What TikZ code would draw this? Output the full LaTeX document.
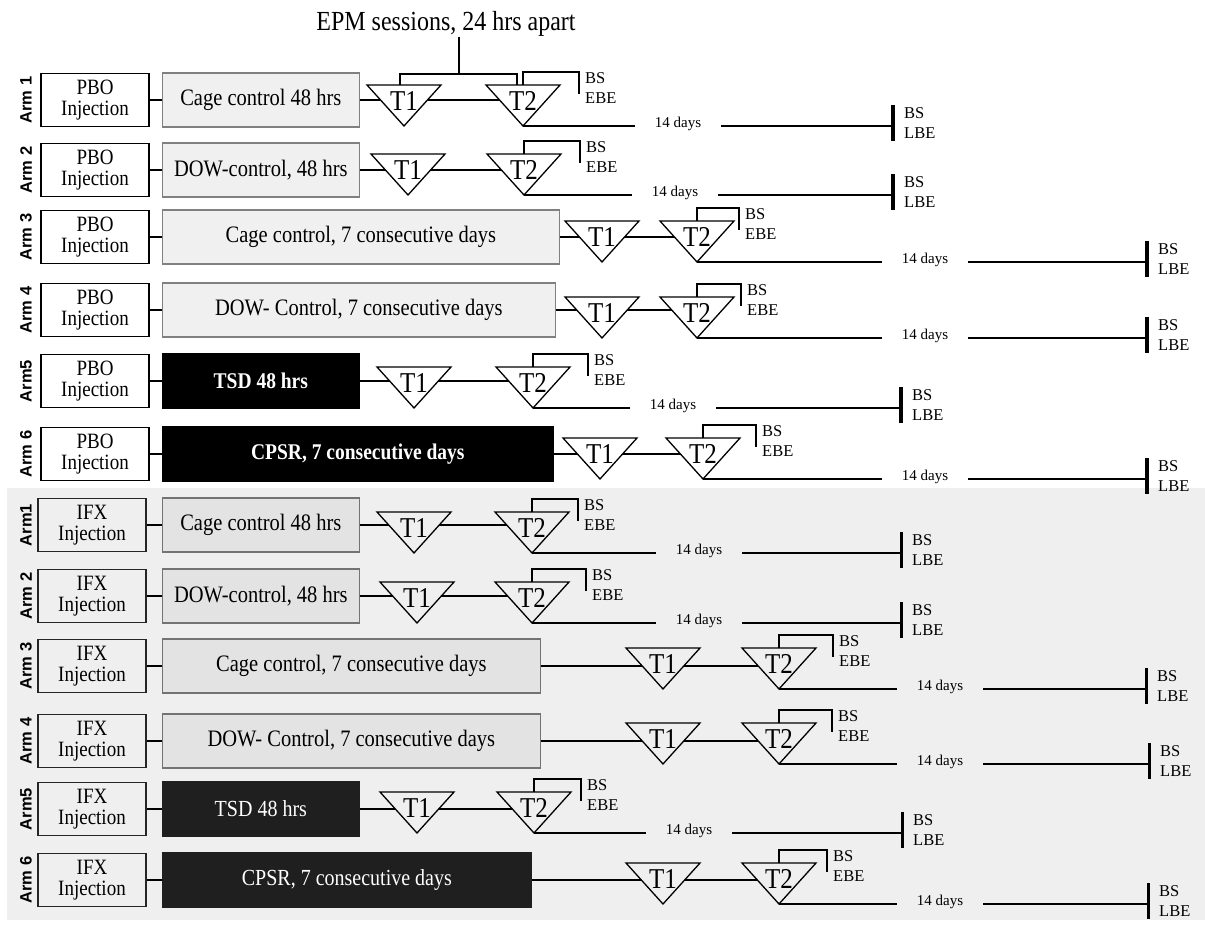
\documentclass[tikz,border=0pt]{standalone}
\usepackage{fontspec}
\setmainfont{Liberation Serif}
\newfontfamily\armfont{Liberation Sans}
\usepackage{graphicx}
\usetikzlibrary{positioning}

\definecolor{panel}{HTML}{EFEFEF}
\newcommand{\tall}[1]{\scalebox{1}[1.15]{#1}}

\pgfdeclarelayer{under}
\pgfdeclarelayer{wires}
\pgfsetlayers{under,wires,main}

\tikzset{
  link/.style={line width=2.7pt},
  stopbar/.style={line width=3.3pt},
  armlab/.style={rotate=90, inner sep=0, font=\armfont\bfseries\fontsize{16.5}{18}\selectfont},
  inj/.style={draw, fill=white, line width=1.2pt, minimum width=108, minimum height=53,
    inner sep=0, align=center, font=\fontsize{19}{21}\selectfont},
  box/.style={minimum height=54, inner sep=0, line width=1.2pt, font=\fontsize{20.5}{24}\selectfont},
  ctl/.style={draw=black!50, fill=black!6},
  tsd/.style={draw=black, fill=black, text=white, font=\bfseries\fontsize{19.5}{24}\selectfont},
  tri/.style={draw, fill=white, line width=1.3pt},
  tlab/.style={inner sep=0, font=\fontsize{25}{27}\selectfont},
  days/.style={inner sep=0, minimum width=86, font=\fontsize{15}{17}\selectfont},
  note/.style={inner sep=0, align=left, font=\fontsize{16.5}{20}\selectfont},
  epm/.style={inner sep=0, font=\fontsize{24}{26}\selectfont},
  pbo/.style={},
  ifx/.style={
    link/.style={line width=1.9pt},
    stopbar/.style={line width=3pt},
    inj/.append style={fill=panel, draw=black!85, xshift=-3pt},
    ctl/.style={draw=black!55, fill=black!11},
    tsd/.style={draw=black!88, fill=black!88, text=white, font=\fontsize{20}{24}\selectfont},
    tri/.append style={fill=panel}}
}

\begin{document}
\begin{tikzpicture}[x=1pt, y=-1pt]
  \useasboundingbox (0,0) rectangle (1205,925);
  \begin{pgfonlayer}{under}
    \fill[white] (0,0) rectangle (1205,925);
    \fill[panel] (7,488) rectangle (1205,920);
  \end{pgfonlayer}

  \foreach \n/\grp/\lab/\inj/\txt/\kind/\bx/\y/\ty/\ta/\tb/\bk/\dx/\bz in {
    1/pbo/Arm 1/PBO/Cage control 48 hrs/ctl/359/100/85/404/523/579/678/893,
    2/pbo/Arm 2/PBO/{DOW-control, 48 hrs}/ctl/359/170/154/408/524/580/675/893,
    3/pbo/Arm 3/PBO/{Cage control, 7 consecutive days}/ctl/559/237/221/602/697/739/925/1147,
    4/pbo/Arm 4/PBO/{DOW- Control, 7 consecutive days}/ctl/555/310/297/602/697/741/925/1147,
    5/pbo/Arm5/PBO/TSD 48 hrs/tsd/359/381/367/414/533/588/673/901,
    6/pbo/Arm 6/PBO/{CPSR, 7 consecutive days}/tsd/553/454/438/600/703/756/925/1147,
    7/ifx/Arm1/IFX/Cage control 48 hrs/ctl/359/525/512/414/532/578/699/901,
    8/ifx/Arm 2/IFX/{DOW-control, 48 hrs}/ctl/359/596/582/417/532/586/699/901,
    9/ifx/Arm 3/IFX/{Cage control, 7 consecutive days}/ctl/540/666/648/663/779/833/940/1146,
    10/ifx/Arm 4/IFX/{DOW- Control, 7 consecutive days}/ctl/540/741/723/663/779/832/940/1149,
    11/ifx/Arm5/IFX/TSD 48 hrs/tsd/359/809/792/417/534/581/689/902,
    12/ifx/Arm 6/IFX/{CPSR, 7 consecutive days}/tsd/531/880/863/663/779/827/940/1148} {
    \begin{scope}[\grp]
      \node[armlab] (lab-\n) at (26,\y) {\lab};
      \node[inj] (inj-\n) at (95,\y) {\tall{\inj}\\\tall{Injection}};
      \node[box, \kind, anchor=west, minimum width=\bx-161.5] (box-\n) at (161.5,\y) {\tall{\txt}};

      % the two EPM trials
      \draw[tri] (\ta-37,\ty) -- (\ta+37,\ty) -- (\ta,\ty+41) -- cycle;
      \draw[tri] (\tb-37,\ty) -- (\tb+37,\ty) -- (\tb,\ty+41) -- cycle;
      \node[tlab] (t1-\n) at (\ta,\ty+16) {\tall{T1}};
      \node[tlab] (t2-\n) at (\tb,\ty+16) {\tall{T2}};
      \coordinate (t1top-\n) at (\ta,\ty);
      \coordinate (t2top-\n) at (\tb,\ty);
      \coordinate (t2tip-\n) at (\tb,\ty+41);
      \coordinate (end-\n) at (\bz,\ty+41);

      \node[days] (days-\n) at (\dx,\ty+39) {14 days};
      \node[note, anchor=west] (ebe-\n) at (\bk+6,\ty+3) {BS\\EBE};
      \node[note, anchor=west] (lbe-\n) at (\bz+11,\ty+38) {BS\\LBE};

      \begin{pgfonlayer}{wires}
        \draw[link] (inj-\n.east) -- (box-\n.west);
        \draw[link] (box-\n.east) -- (box-\n.east -| t2-\n);
      \end{pgfonlayer}
      \draw[link] (t2top-\n) -- ++(0,-13) -| (\bk,\ty+9);
      \draw[link] (t2tip-\n) -- (t2tip-\n -| days-\n.west);
      \draw[link] (end-\n -| days-\n.east) -- (end-\n);
      \draw[stopbar] ([yshift=21pt]end-\n) -- ([yshift=-15pt]end-\n);
    \end{scope}
  }

  % sessions label
  \node[epm] (epm) at (446,24) {\tall{EPM sessions, 24 hrs apart}};
  \coordinate (fork) at (459,74);
  \draw[link] (epm.south -| fork) -- (fork);
  \draw[link] ([xshift=-4pt]t1top-1) -- ++(0,-11) -| ([xshift=-6pt]t2top-1);
\end{tikzpicture}
\end{document}
